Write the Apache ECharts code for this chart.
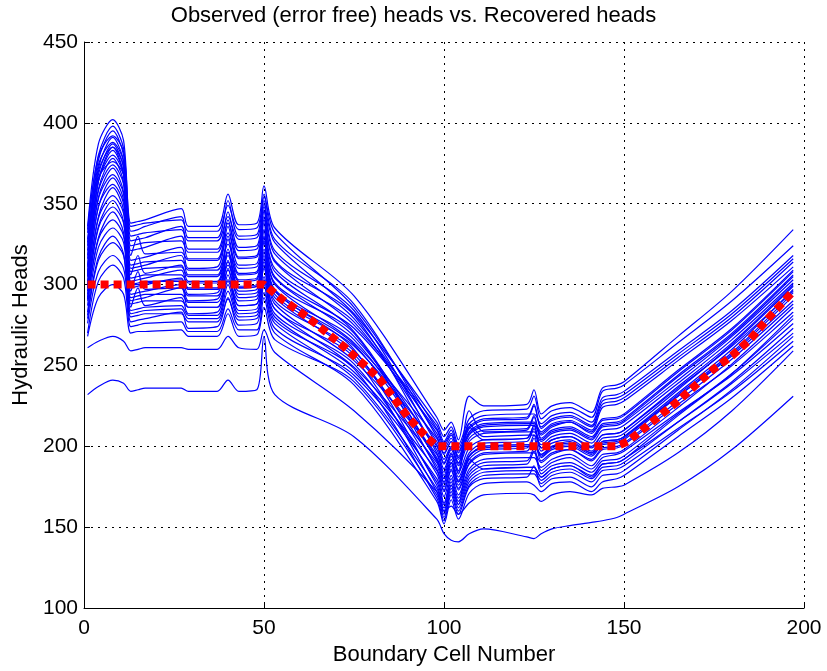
<!DOCTYPE html>
<html>
<head>
<meta charset="utf-8">
<script src="https://cdn.jsdelivr.net/npm/echarts@6/dist/echarts.min.js"></script>
<style>html,body{margin:0;padding:0;background:#fff}#c{width:827px;height:671px}</style>
</head>
<body>
<div id="c"></div>
<script>
const cells = [1,4,8,11,13,15,17,27,29,37,40,43,48,50,53,75,98,100,102,104,107,111,123,125,127,130,135,141,144,148,150,165,180,197];

// Recovered heads (blue runs), values at the cells above
const recovered = [
[232,237,241,239,234,235,236,236,234,234,241,234,235,268,232,206,155,146,142,141,146,149,144,143,146,149,151,153,154,156,158,175,198,231],
[261,265,268,265,259,260,261,261,260,260,268,261,260,272,258,222,172,160,163,158,165,170,171,170,166,170,172,170,174,175,176,196,222,259],
[268,292,300,294,270,271,271,272,268,268,282,268,269,286,266,240,170,156,172,160,176,182,183,183,177,182,184,178,185,186,188,211,234,265],
[270,302,312,304,274,275,276,277,271,271,285,272,272,292,270,238,166,152,167,155,171,177,178,176,172,177,178,172,178,180,182,206,230,262],
[281,317,330,319,277,278,279,283,273,274,292,275,276,300,273,244,180,165,180,168,184,190,191,199,185,190,193,186,193,195,197,221,244,276],
[276,308,318,310,280,281,282,282,277,277,291,278,279,295,276,242,174,160,176,164,192,186,187,187,181,186,188,181,189,190,192,215,239,270],
[290,329,345,332,282,283,284,285,279,279,296,280,281,305,278,248,168,154,170,158,175,180,181,188,175,180,181,175,182,183,185,210,235,268],
[279,315,326,318,284,285,286,287,281,281,300,282,283,303,280,246,185,172,185,173,189,195,196,196,190,195,198,191,198,199,201,226,250,283],
[292,336,352,339,286,298,287,292,282,283,306,284,285,312,282,251,178,164,178,166,182,188,189,197,183,188,190,184,191,192,194,220,245,279],
[283,323,335,326,288,289,290,290,286,286,302,287,288,310,285,249,190,177,190,178,194,200,201,201,195,200,203,196,203,204,206,231,256,290],
[296,342,360,346,290,291,292,298,286,286,310,287,288,318,285,255,172,158,174,162,178,184,185,185,179,184,186,180,187,188,190,215,240,273],
[287,328,340,330,292,293,294,294,289,289,303,290,291,314,288,253,195,182,194,183,212,204,205,213,199,204,206,199,207,208,210,236,262,296],
[300,348,366,352,294,295,296,300,290,291,315,292,293,322,290,259,183,169,182,170,186,192,193,193,187,192,195,188,195,196,198,224,251,286],
[291,335,348,338,296,308,297,298,293,293,309,294,295,316,292,257,188,175,188,176,192,198,199,207,193,198,200,194,201,202,204,231,257,293],
[305,354,372,357,298,299,300,304,294,295,320,296,297,330,294,262,200,189,198,188,203,208,209,209,203,208,210,204,212,213,215,241,268,303],
[294,341,355,344,300,301,302,302,297,297,312,298,299,320,296,260,176,162,176,164,180,186,187,187,181,186,188,182,189,190,192,219,245,281],
[308,359,378,363,302,303,304,309,298,298,322,299,300,333,297,266,193,180,192,181,196,202,203,211,197,202,204,197,205,206,208,235,263,299],
[298,348,362,350,304,305,306,306,301,301,318,302,303,326,300,264,205,195,203,192,207,212,213,213,207,212,215,208,216,217,219,246,272,308],
[312,364,383,368,306,318,307,312,302,302,328,303,304,338,301,270,186,173,186,174,190,196,197,205,191,196,198,192,199,200,202,228,254,288],
[302,353,368,356,308,309,310,311,305,305,320,306,307,329,304,268,198,186,196,185,214,206,207,207,201,206,208,202,210,211,213,239,266,301],
[316,368,387,372,310,311,312,318,306,306,330,307,308,342,305,273,210,200,207,196,211,216,217,225,211,216,218,212,226,228,230,255,280,314],
[306,358,374,362,312,313,314,315,309,309,325,310,311,334,308,271,191,178,190,179,194,200,201,201,195,200,202,196,203,204,206,233,260,297],
[321,372,391,376,315,316,317,323,310,311,336,312,313,346,310,277,203,192,200,190,205,210,211,219,205,210,212,206,214,215,217,244,270,306],
[311,364,380,368,318,330,319,320,315,315,332,316,317,340,314,275,213,203,210,199,214,219,220,220,214,219,221,215,230,232,234,259,284,318],
[326,377,395,380,321,322,323,330,316,316,340,317,318,350,315,281,196,184,195,184,199,204,205,213,199,204,206,200,207,208,210,237,264,300],
[318,370,385,373,324,325,326,327,320,320,338,321,322,345,319,279,208,198,205,194,209,214,215,215,209,214,216,210,224,226,228,253,278,311],
[332,380,398,384,327,328,329,336,322,322,345,323,324,352,321,284,201,190,199,189,222,209,210,218,204,209,211,205,213,214,216,243,269,305],
[324,374,388,376,330,331,332,334,327,327,342,328,329,348,326,282,215,206,212,201,217,222,223,231,217,222,224,218,234,236,238,264,290,324],
[336,387,402,389,333,334,336,342,329,329,352,330,331,356,328,288,206,196,203,193,208,213,214,214,208,213,215,209,217,218,220,247,273,309],
[328,366,376,368,336,337,338,340,333,333,349,334,335,354,332,286,211,202,208,197,212,217,218,226,212,217,219,213,228,230,232,257,282,316],
[334,379,392,382,338,339,340,347,336,336,356,337,338,361,335,293,218,210,215,204,231,225,226,235,220,225,227,221,236,238,240,268,296,334],
[305,364,385,368,300,300,301,303,297,297,314,298,299,327,296,263,192,180,190,178,194,199,200,200,194,199,201,195,202,203,205,232,258,295]
];

// Observed (error free) heads: red dotted curve
const observedCells = [1,50,55,62,72,82,90,95,98,148,151,155,160,165,170,175,180,185,190,197];
const observedHeads = [300,300,291,280,262,242,218,206,200,200,203,210,219,228,238,248,256,266,279,296];

const xTicks = [0,50,100,150,200];
const yTicks = [100,150,200,250,300,350,400,450];

const FONT = 'Liberation Sans';
const chart = echarts.init(document.getElementById('c'), null, {renderer:'canvas'});

const series = recovered.map(ys => ({
  type:'line',
  data: cells.map((x,i)=>[x, ys[i]]),
  showSymbol:false, symbol:'none', silent:true,
  smooth:0.3,
  lineStyle:{color:'#0000ff', width:1.2},
  z:2
}));
series.push({
  type:'line',
  data: observedCells.map((x,i)=>[x, observedHeads[i]]),
  showSymbol:false, symbol:'none', silent:true,
  lineStyle:{color:'#ff0000', width:8, type:[8,5], cap:'butt'},
  z:5
});

chart.setOption({
  animation:false,
  backgroundColor:'#ffffff',
  title:{
    text:'Observed (error free) heads vs. Recovered heads',
    left:'center', top:5, padding:0,
    textStyle:{fontFamily:FONT, fontSize:22, fontWeight:'normal', color:'#000'}
  },
  grid:{left:84, right:23, top:42, bottom:60, containLabel:false},
  xAxis:{
    type:'value', min:xTicks[0], max:xTicks[xTicks.length-1], interval:50,
    name:'Boundary Cell Number', nameLocation:'middle', nameGap:35,
    nameTextStyle:{fontFamily:FONT, fontSize:22, color:'#000'},
    axisLine:{show:true, onZero:false, lineStyle:{color:'#000', width:1}},
    axisTick:{show:true, inside:true, length:6, lineStyle:{color:'#000'}},
    axisLabel:{fontFamily:FONT, fontSize:21, color:'#000', margin:10},
    splitLine:{show:true, lineStyle:{color:'#000', width:1, type:[2,5]}}
  },
  yAxis:{
    type:'value', min:yTicks[0], max:yTicks[yTicks.length-1], interval:50,
    name:'Hydraulic Heads', nameLocation:'middle', nameGap:47, nameRotate:90,
    nameTextStyle:{fontFamily:FONT, fontSize:22, color:'#000'},
    axisLine:{show:true, onZero:false, lineStyle:{color:'#000', width:1}},
    axisTick:{show:true, inside:true, length:6, lineStyle:{color:'#000'}},
    axisLabel:{fontFamily:FONT, fontSize:21, color:'#000', margin:6},
    splitLine:{show:true, lineStyle:{color:'#000', width:1, type:[2,5]}}
  },
  series: series
});
</script>
</body>
</html>
